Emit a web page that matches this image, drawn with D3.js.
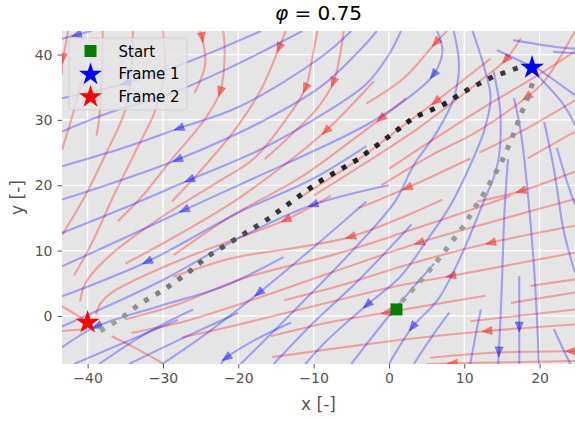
<!DOCTYPE html>
<html>
<head>
<meta charset="utf-8">
<script src="https://cdn.jsdelivr.net/npm/d3@7/dist/d3.min.js"></script>
<style>
  body { margin: 0; background: #ffffff; }
  text { font-family: "DejaVu Sans", "Liberation Sans", sans-serif; }
</style>
</head>
<body>
<svg id="chart" width="575" height="421"></svg>
<script>
// ---- axis ticks ----
const xTicks = [-40, -30, -20, -10, 0, 10, 20];
const yTicks = [0, 10, 20, 30, 40];
const xDomain = [-43.4, 24.7];
const yDomain = [-7.35, 43.6];

// ---- key points ----
const startPoint = [1, 1];
const frame1 = [19, 38];
const frame2 = [-40, -1];

// ---- trajectories (dotted) ----
const blackPath = [[-38.3,-2.3],[-35.6,-0.4],[-33,1.9],[-29.9,4],[-26.8,6.5],[-24.1,9.1],[-20.6,11.6],
  [-16.2,14.7],[-12.8,17.6],[-9.2,20.6],[-4.2,23.9],[-0.3,27.2],[3.2,30.3],[7.2,32.3],[10.4,34.6],
  [13.8,36.6],[17.4,38.1],[18.6,38.2]];
const grayPath = [[1.7,2.2],[3.7,4.7],[5.4,7],[7.2,9.6],[8.5,11.6],[9.9,13.7],[11.2,16.2],[12.6,18.7],
  [14.8,23.2],[16.2,26.8],[17.5,30.8],[18.6,33.9],[19.3,36.6]];

// ---- streamlines of field 1 (blue), listed downstream, arrow = vertex indices ----
const blueStreams = [
  { pts: [[-39.5,43.6],[-41.5,43.0],[-43.4,42.4]], arrow: [1] },
  { pts: [[-17,43.6],[-26.6,38.9],[-35,35.6],[-43.4,33.3]], arrow: [2] },
  { pts: [[-11.5,43.6],[-20.4,38.4],[-28.8,34.1],[-37.6,30.9],[-43.4,28.2]], arrow: [] },
  { pts: [[-5,43.6],[-8.9,39.7],[-19.9,32.0],[-27.9,28.7],[-35,25.8],[-43.4,22.9]], arrow: [3] },
  { pts: [[-1.6,43.6],[-4,40.5],[-8.9,35.2],[-16.8,29.8],[-28.1,23.9],[-35,21.0],[-43.4,17.8]], arrow: [4] },
  { pts: [[1.6,43.6],[0,40],[-3,35.5],[-8.9,30.8],[-17,25.5],[-26.5,20.8],[-35,16.6],[-43.4,12.7]], arrow: [5] },
  { pts: [[6.4,43.6],[7.1,40.5],[5.9,36.9],[2,32.9],[-2.9,29.3],[-9.5,25.5],[-17.5,21.3],[-27.2,16.2],[-35,12.0],[-43.4,7.6]], arrow: [2, 7] },
  { pts: [[-3,26],[-10.1,21],[-20,15.8],[-32.1,8.3],[-43.4,3.0]], arrow: [3] },
  { pts: [[0,20],[-10.1,17.0],[-20.8,11.4],[-30,5.5],[-43.4,-1.6]], arrow: [1] },
  { pts: [[-14,9],[-22,4.5],[-30.5,1.5],[-38.8,-1.6],[-43.4,-4.8]], arrow: [3] },
  { pts: [[-28,-0.6],[-35,-4],[-41.8,-7.35]], arrow: [] },
  { pts: [[-26,1],[-32,-2.5],[-38.5,-7.35]], arrow: [] },
  { pts: [[-20,0.5],[-27,-3.2],[-34.5,-7.35]], arrow: [] },
  { pts: [[-3,17.5],[-10,10.5],[-17.3,3.5],[-24,-2.5],[-30.1,-7.35]], arrow: [2] },
  { pts: [[-13,-1],[-18,-3.8],[-21.6,-6.4],[-22.3,-7.35]], arrow: [2] },
  { pts: [[8.6,43.6],[9.3,38.4],[8.6,33.3],[6.4,28.2],[3.3,23.1],[0.8,17.5],[-5,9.8],[-12,1.5],[-19.7,-7.35]], arrow: [] },
  { pts: [[11.1,43.6],[12.8,37.4],[13.5,33.3],[12.6,28.2],[10.8,23.1],[8.2,17],[5,11.5],[1.5,6],[-2.9,1.7],[-8,-3.5],[-11.1,-7.35]], arrow: [8] },
  { pts: [[3,14],[-4,5.5],[-10,-1],[-15.3,-7.35]], arrow: [] },
  { pts: [[6,8],[0,0],[-5,-7.35]], arrow: [] },
  { pts: [[13.9,37.4],[14.8,30.8],[14.4,23.1],[12.4,17],[9.5,9],[6.5,2.5],[3.1,-1.7],[0,-7.35]], arrow: [6] },
  { pts: [[8,0.5],[5.5,-3.5],[3.3,-7.35]], arrow: [] },
  { pts: [[12.2,1],[11.5,-3],[10.8,-7.35]], arrow: [] },
  { pts: [[15.8,24],[15.3,15],[15,5],[14.6,-5.5],[14.5,-7.35]], arrow: [3] },
  { pts: [[17.3,6.1],[17.3,-1.7],[17.3,-7.35]], arrow: [1] },
  { pts: [[16.6,33.3],[17.5,28.2],[18.5,18],[19.4,5],[19.9,-7.35]], arrow: [] },
  { pts: [[20.6,29.7],[21.8,23.1],[22.5,18],[23.2,13],[24.7,6.6]], arrow: [] },
  { pts: [[22.3,25.7],[23.5,21],[24.7,17]], arrow: [] },
  { pts: [[21.9,-2],[23,-4.8],[24.1,-7.35]], arrow: [] },
  { pts: [[19.2,37.4],[23.2,32.3],[24.7,29.2]], arrow: [] },
  { pts: [[19.7,37.9],[24.7,33.8]], arrow: [] },
  { pts: [[16.5,42.2],[21.9,41.2],[24.7,40.9]], arrow: [] },
  { pts: [[21.8,40.4],[24.7,40.2]], arrow: [] },
  { pts: [[19.1,38.1],[14.3,40.7]], arrow: [] }
];

// ---- streamlines of field 2 (red), listed downstream ----
const redStreams = [
  { pts: [[-42.6,43.6],[-43.0,41],[-43.3,39.4],[-43.4,37]], arrow: [2] },
  { pts: [[-40.8,36],[-41.8,31.5],[-43.4,25.4]], arrow: [] },
  { pts: [[-38,43.6],[-38.1,37],[-38.4,31],[-38.8,27.6]], arrow: [] },
  { pts: [[-34,43.6],[-34.2,37],[-35,31.5],[-37.5,25],[-40.5,18],[-43.4,12.4]], arrow: [] },
  { pts: [[-30,43.6],[-29.8,37],[-31,31.5],[-33.5,25.5],[-36.5,18.5],[-39.5,11],[-41.8,6.2]], arrow: [] },
  { pts: [[-25.1,43.6],[-24.8,42.6],[-24.4,38.4],[-25.8,34.1]], arrow: [1] },
  { pts: [[-22,43.6],[-21.8,40.5],[-22.4,34.3],[-24.5,30],[-28.8,24],[-33,18],[-36,14.5]], arrow: [2] },
  { pts: [[-13.7,43.6],[-14.6,41],[-17,34.6],[-20.5,28.4],[-24.8,22.5],[-28.8,17.5]], arrow: [1] },
  { pts: [[-9.5,43.6],[-10.2,39.4],[-11.1,34.8],[-13.9,29.7],[-17.9,24.1],[-23,20.3],[-30.1,15.2],[-37.2,9.1],[-40.3,5],[-41,2.2]], arrow: [2] },
  { pts: [[-6,43.6],[-7.4,35.7],[-9.5,31.8],[-13.9,26.7],[-16.5,24]], arrow: [1] },
  { pts: [[-2,35.9],[-8.4,28.3],[-13.9,23.1],[-20.6,17.5],[-28.6,12],[-35,8]], arrow: [1] },
  { pts: [[2.3,33.3],[-1.1,30.2],[-5.1,26.7],[-12,21],[-20.6,15.5],[-28.6,9.3]], arrow: [1] },
  { pts: [[7.7,43.6],[6.2,41.8],[2,36.4],[-3,32.5]], arrow: [1] },
  { pts: [[13.5,39.4],[6.2,32.8],[2,29.2],[-4,24],[-12,18]], arrow: [1] },
  { pts: [[17.5,42.5],[15.5,39.2],[12.6,36.4],[8.6,32.8],[3,28],[-3,23.5],[-10,18.4]], arrow: [1] },
  { pts: [[24.7,43.6],[20.6,35.9],[18.3,33.5],[11.7,28.2],[5.5,24.5],[-1,20]], arrow: [2] },
  { pts: [[24.7,40.5],[20,37],[12,31.5],[5.5,26.7],[0,22.5]], arrow: [] },
  { pts: [[24.7,28.2],[18.4,24.1]], arrow: [] },
  { pts: [[24.7,33],[18,28.5],[12,25]], arrow: [] },
  { pts: [[24.7,22.1],[17.5,19.1],[11.7,17.5]], arrow: [1] },
  { pts: [[10.8,24.1],[2.4,19.6],[-4,16.5]], arrow: [1] },
  { pts: [[7.1,17.8],[2.2,15.3],[-5.1,12.1],[-12,10.5],[-20.6,8.9],[-28.6,6]], arrow: [2] },
  { pts: [[16.2,18.4],[9,15.5],[2,12.8],[-7,9.5],[-19.5,5.7],[-28,1.8],[-35,-0.5]], arrow: [] },
  { pts: [[24.7,17.9],[14,14.5],[4,11.2],[-8,6.5],[-20.6,1.5],[-27,-0.8],[-34.2,-2.6]], arrow: [2] },
  { pts: [[24.7,13.8],[13.5,11.2],[2,7.7],[-6,4.8],[-13.9,2.4]], arrow: [1] },
  { pts: [[24.7,9.7],[8.2,6.1],[2,4.8],[-10,1.5],[-20.6,-1.5],[-27.5,-3.3]], arrow: [1] },
  { pts: [[12.8,3.1],[2,1],[-0.4,0.5],[-8,-1],[-15.7,-3.1]], arrow: [2] },
  { pts: [[24.7,3.6],[16.2,2]], arrow: [] },
  { pts: [[24.7,5.6],[18.8,4.6]], arrow: [] },
  { pts: [[24.7,1],[10.8,-0.8]], arrow: [] },
  { pts: [[24.7,-1.3],[13,-2.3],[2,-3.6],[-6,-4.8],[-15.5,-6.3]], arrow: [1] },
  { pts: [[24.7,-5.4],[24.1,-5.4],[14.4,-5.6],[5.5,-6.4]], arrow: [1] },
  { pts: [[24.7,-6.9],[15,-7.1],[8.4,-7.25],[5,-7.35]], arrow: [2] },
  { pts: [[-29.9,-7.35],[-33.5,-5],[-36.8,-3.1]], arrow: [] },
  { pts: [[-43.4,1.5],[-40.1,-0.8]], arrow: [] },
  { pts: [[-43.4,-2.3],[-40.1,-2]], arrow: [] },
  { pts: [[-7.7,18.4],[-13.7,14.7],[-20.6,11.7],[-29.9,7.5],[-36.9,3.5],[-38.3,1.9],[-38.9,0.2]], arrow: [1] }
];

// ---- legend ----
const legendLabels = ["Start", "Frame 1", "Frame 2"];
const legendKinds = ["square", "star", "star"];
const legendColors = ["#008000", "#0000ff", "#ff0000"];

// ---- scales ----
const svg = d3.select("#chart");
const plot = { left: 62, right: 575, top: 31, bottom: 364 };
const x = d3.scaleLinear().domain(xDomain).range([plot.left, plot.right]);
const y = d3.scaleLinear().domain(yDomain).range([plot.bottom, plot.top]);

svg.append("rect").attr("width", 575).attr("height", 421).attr("fill", "#ffffff");

svg.append("defs").append("clipPath").attr("id", "plotClip")
  .append("rect")
  .attr("x", plot.left).attr("y", plot.top)
  .attr("width", plot.right - plot.left).attr("height", plot.bottom - plot.top);

// panel background
svg.append("rect")
  .attr("x", plot.left).attr("y", plot.top)
  .attr("width", plot.right - plot.left).attr("height", plot.bottom - plot.top)
  .attr("fill", "#e5e5e5");

// grid
const grid = svg.append("g");
grid.selectAll("line.gx").data(xTicks).join("line")
  .attr("x1", d => x(d)).attr("x2", d => x(d))
  .attr("y1", plot.top).attr("y2", plot.bottom)
  .attr("stroke", "#ffffff").attr("stroke-width", 1.2);
grid.selectAll("line.gy").data(yTicks).join("line")
  .attr("y1", d => y(d)).attr("y2", d => y(d))
  .attr("x1", plot.left).attr("x2", plot.right)
  .attr("stroke", "#ffffff").attr("stroke-width", 1.2);

// axes (ticks + labels, no spines)
const fmt = d => (d < 0 ? "\u2212" + Math.abs(d) : String(d));
const xAxis = svg.append("g").attr("transform", `translate(0,${plot.bottom})`)
  .call(d3.axisBottom(x).tickValues(xTicks).tickFormat(fmt).tickSize(4.5).tickPadding(5));
const yAxis = svg.append("g").attr("transform", `translate(${plot.left},0)`)
  .call(d3.axisLeft(y).tickValues(yTicks).tickFormat(fmt).tickSize(4.5).tickPadding(5));
[xAxis, yAxis].forEach(a => {
  a.select(".domain").remove();
  a.selectAll(".tick line").attr("stroke", "#555555").attr("stroke-width", 1);
  a.selectAll(".tick text").attr("fill", "#555555")
    .style("font-size", "14px").style("font-family", "'DejaVu Sans', sans-serif");
});

// streamlines
const field = svg.append("g").attr("clip-path", "url(#plotClip)");
const line = d3.line().x(d => x(d[0])).y(d => y(d[1])).curve(d3.curveCatmullRom.alpha(0.5));

function drawStreams(streams, color) {
  const g = field.append("g");
  g.selectAll("path").data(streams).join("path")
    .attr("d", d => line(d.pts))
    .attr("fill", "none")
    .attr("stroke", color)
    .attr("stroke-opacity", 0.3)
    .attr("stroke-width", 2.1)
    .attr("stroke-linecap", "butt");
  const heads = [];
  streams.forEach(s => {
    s.arrow.forEach(i => {
      const p = s.pts;
      const a = p[Math.max(0, i - 1)], b = p[Math.min(p.length - 1, i + 1)];
      heads.push({ at: p[i], from: a, to: b });
    });
  });
  g.selectAll("path.head").data(heads).join("path")
    .attr("class", "head")
    .attr("d", h => {
      const cx = x(h.at[0]), cy = y(h.at[1]);
      let dx = x(h.to[0]) - x(h.from[0]), dy = y(h.to[1]) - y(h.from[1]);
      const n = Math.hypot(dx, dy) || 1; dx /= n; dy /= n;
      const L = 10, Wd = 4;
      const tip = [cx + dx * L / 2, cy + dy * L / 2];
      const bx = cx - dx * L / 2, by = cy - dy * L / 2;
      const l = [bx - dy * Wd, by + dx * Wd], r = [bx + dy * Wd, by - dx * Wd];
      return `M${tip[0]},${tip[1]}L${l[0]},${l[1]}L${r[0]},${r[1]}Z`;
    })
    .attr("fill", color)
    .attr("fill-opacity", 0.45)
    .attr("stroke", color)
    .attr("stroke-opacity", 0.3)
    .attr("stroke-width", 1);
}
drawStreams(redStreams, "#ff0000");
drawStreams(blueStreams, "#0000ff");

// dotted trajectories, dot by dot so the shade can vary along the path
const traj = svg.append("g").attr("clip-path", "url(#plotClip)");
const straight = d3.line().x(d => x(d[0])).y(d => y(d[1]));
function dottedPath(data, colorAt) {
  const guide = traj.append("path").attr("d", straight(data)).attr("fill", "none").attr("stroke", "none");
  const node = guide.node();
  const total = node.getTotalLength();
  const on = 5, period = 13.25;
  for (let s = 0; s + 0.5 < total; s += period) {
    const e = Math.min(total, s + on);
    const p0 = node.getPointAtLength(s), p1 = node.getPointAtLength(e);
    traj.append("line")
      .attr("x1", p0.x).attr("y1", p0.y).attr("x2", p1.x).attr("y2", p1.y)
      .attr("stroke", colorAt(s / total))
      .attr("stroke-width", 5)
      .attr("stroke-linecap", "butt");
  }
}
const blackShade = d3.scaleLinear().domain([0, 0.3, 0.5, 0.8, 1])
  .range(["#a4a4a4", "#555555", "#222222", "#222222", "#454545"]).interpolate(d3.interpolateRgb);
const grayShade = d3.scaleLinear().domain([0, 1]).range(["#a2a2a2", "#8c8c8c"]);
dottedPath(grayPath, t => grayShade(t));
dottedPath(blackPath, t => blackShade(t));

// markers
function starPath(cx, cy, R) {
  const r = R * 0.381966;
  const pts = [];
  for (let k = 0; k < 10; k++) {
    const ang = -Math.PI / 2 + k * Math.PI / 5;
    const rad = k % 2 === 0 ? R : r;
    pts.push([cx + rad * Math.cos(ang), cy + rad * Math.sin(ang)]);
  }
  return "M" + pts.map(p => p.join(",")).join("L") + "Z";
}
const marks = svg.append("g");
marks.append("rect")
  .attr("x", x(startPoint[0]) - 6).attr("y", y(startPoint[1]) - 6)
  .attr("width", 12).attr("height", 12).attr("fill", "#008000");
marks.append("path").attr("d", starPath(x(frame1[0]), y(frame1[1]), 12.5)).attr("fill", "#0000ff");
marks.append("path").attr("d", starPath(x(frame2[0]), y(frame2[1]), 12.5)).attr("fill", "#ff0000");

// legend
const leg = svg.append("g");
leg.append("rect")
  .attr("x", 69).attr("y", 38).attr("width", 118).attr("height", 72).attr("rx", 3)
  .attr("fill", "#e5e5e5").attr("fill-opacity", 0.8)
  .attr("stroke", "#cccccc").attr("stroke-opacity", 0.8).attr("stroke-width", 1);
legendLabels.forEach((lab, i) => {
  const cy = 51 + i * 22.5;
  if (legendKinds[i] === "square") {
    leg.append("rect").attr("x", 84.5).attr("y", cy - 6).attr("width", 12).attr("height", 12)
      .attr("fill", legendColors[i]);
  } else {
    leg.append("path").attr("d", starPath(90.5, cy + 1, 12)).attr("fill", legendColors[i]);
  }
  leg.append("text").attr("x", 118.5).attr("y", cy + 5.5)
    .attr("fill", "#000000").style("font-size", "15px").text(lab);
});

// title and axis labels
const title = svg.append("text").attr("x", 318.5).attr("y", 20)
  .attr("text-anchor", "middle").attr("fill", "#000000").style("font-size", "20px");
title.append("tspan").style("font-style", "italic").text("\u03c6");
title.append("tspan").text(" = 0.75");

svg.append("text").attr("x", 318.5).attr("y", 410)
  .attr("text-anchor", "middle").attr("fill", "#555555").style("font-size", "17px").text("x [-]");
svg.append("text").attr("transform", "translate(23,197.5) rotate(-90)")
  .attr("text-anchor", "middle").attr("fill", "#555555").style("font-size", "17px").text("y [-]");
</script>
</body>
</html>
